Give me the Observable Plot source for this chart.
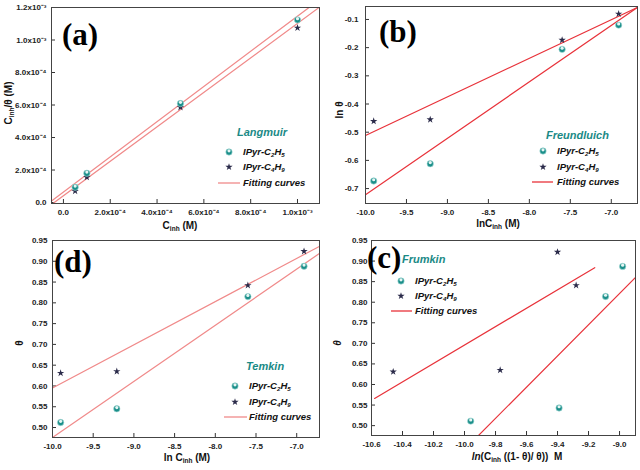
<!DOCTYPE html>
<html><head><meta charset="utf-8">
<script src="https://cdn.jsdelivr.net/npm/d3@7"></script>
<script src="https://cdn.jsdelivr.net/npm/@observablehq/plot@0.6"></script>
<style>
body{margin:0;background:#fff;}
#wrap{position:relative;width:640px;height:470px;overflow:hidden;font-family:Arial,"Liberation Sans",sans-serif;background:#fff;}
.panel{position:absolute;}
.t{position:absolute;white-space:nowrap;line-height:1;transform:translateY(-50%);color:#111;font-weight:bold;}
.xl{position:absolute;white-space:nowrap;line-height:1;transform:translate(-50%,-50%);font-weight:bold;font-size:10px;color:#111;}
.yl{position:absolute;white-space:nowrap;line-height:1;transform:translate(-50%,-50%) rotate(-90deg);font-weight:bold;font-size:10px;color:#111;}
.letter{position:absolute;white-space:nowrap;line-height:1;transform:translateY(-50%);font-family:"Liberation Serif","Times New Roman",serif;font-weight:bold;font-size:31px;color:#000;}
.title{color:#1a8a86;font-style:italic;font-size:11px;}
.item{font-style:italic;font-size:9.5px;}
sub{font-size:0.65em;vertical-align:-0.35em;line-height:0;}
svg.sym{position:absolute;overflow:visible;}
</style>
</head><body><div id="wrap"></div>
<script>
// ---------- data ----------
const conc = [0.00005, 0.0001, 0.0005, 0.001];
const lnConc = [-9.90, -9.21, -7.60, -6.91];

// (a) Langmuir: C/θ
const langC2H5 = [0.000094, 0.000180, 0.000609, 0.001124];
const langC4H9 = [0.000070, 0.000156, 0.000586, 0.001075];
const langFitC2H5X = [-0.000048, 0.001051];
const langFitC2H5Y = [0.000012, 0.001202];
const langFitC4H9X = [-0.000041, 0.001094];
const langFitC4H9Y = [-0.000002, 0.001202];

// (b) Freundlich: ln θ
const freuC2H5 = [-0.673, -0.612, -0.206, -0.120];
const freuC4H9 = [-0.461, -0.455, -0.173, -0.080];
const freuFitX = [-10.0, -6.68];
const freuFitC2H5Y = [-0.722, -0.057];
const freuFitC4H9Y = [-0.512, -0.057];

// (d) Temkin: θ
const temkC2H5 = [0.512, 0.545, 0.815, 0.888];
const temkC4H9 = [0.631, 0.635, 0.842, 0.924];
const temkFitX = [-10.0, -6.72];
const temkFitC2H5Y = [0.476, 0.919];
const temkFitC4H9Y = [0.595, 0.936];

// (c) Frumkin
const frumC2H5X = [-9.96, -9.39, -9.09, -8.98];
const frumC2H5Y = [0.511, 0.543, 0.814, 0.887];
const frumC4H9X = [-10.46, -9.77, -9.40, -9.28];
const frumC4H9Y = [0.631, 0.635, 0.922, 0.841];
const frumFitC2H5X = [-9.91, -8.90];
const frumFitC2H5Y = [0.476, 0.859];
const frumFitC4H9X = [-10.58, -9.16];
const frumFitC4H9Y = [0.566, 0.884];

// ticks
const aXTicks = [0, 0.0002, 0.0004, 0.0006, 0.0008, 0.001];
const aXLabels = ["0.0", "2.0x10⁻⁴", "4.0x10⁻⁴", "6.0x10⁻⁴", "8.0x10⁻⁴", "1.0x10⁻³"];
const aYTicks = [0, 0.0002, 0.0004, 0.0006, 0.0008, 0.001, 0.0012];
const aYLabels = ["0.0", "2.0x10⁻⁴", "4.0x10⁻⁴", "6.0x10⁻⁴", "8.0x10⁻⁴", "1.0x10⁻³", "1.2x10⁻³"];
const lnXTicks = [-10.0, -9.5, -9.0, -8.5, -8.0, -7.5, -7.0];
const lnXLabels = ["-10.0", "-9.5", "-9.0", "-8.5", "-8.0", "-7.5", "-7.0"];
const bYTicks = [-0.7, -0.6, -0.5, -0.4, -0.3, -0.2, -0.1];
const bYLabels = ["-0.7", "-0.6", "-0.5", "-0.4", "-0.3", "-0.2", "-0.1"];
const thYTicks = [0.50, 0.55, 0.60, 0.65, 0.70, 0.75, 0.80, 0.85, 0.90, 0.95];
const thYLabels = ["0.50", "0.55", "0.60", "0.65", "0.70", "0.75", "0.80", "0.85", "0.90", "0.95"];
const cXTicks = [-10.6, -10.4, -10.2, -10.0, -9.8, -9.6, -9.4, -9.2, -9.0];
const cXLabels = ["-10.6", "-10.4", "-10.2", "-10.0", "-9.8", "-9.6", "-9.4", "-9.2", "-9.0"];

const series = ["IPyr-C<sub>2</sub>H<sub>5</sub>", "IPyr-C<sub>4</sub>H<sub>9</sub>", "Fitting curves"];

// ---------- styles ----------
const teal = "#1b8f8a", navy = "#2b2b4a", pink = "#f08a8a", red = "#e8323a";
const starR = 2.3;

const zip = (xs, ys) => xs.map((x, i) => ({x, y: ys[i]}));
const fmt = (ticks, labels) => d => labels[ticks.indexOf(d)];

const wrap = document.getElementById("wrap");

function panel(o) {
  const c2 = zip(o.c2x, o.c2y), c4 = zip(o.c4x, o.c4y);
  const svg = Plot.plot({
    width: 320, height: 235,
    marginLeft: o.m[0], marginRight: o.m[1], marginTop: o.m[2], marginBottom: o.m[3],
    x: {domain: o.xd}, y: {domain: o.yd},
    style: {background: "transparent", overflow: "visible", fontFamily: "Arial, 'Liberation Sans', sans-serif", fontSize: "8px", fontWeight: "bold", color: "#222"},
    marks: [
      Plot.axisX({ticks: o.xt, tickFormat: fmt(o.xt, o.xl), tickSize: 0, tickPadding: 6, label: null, fill: "#222"}),
      Plot.axisX({ticks: o.xt, tickSize: -4, fill: "none", label: null, stroke: "#333"}),
      Plot.axisY({ticks: o.yt, tickFormat: fmt(o.yt, o.yl), tickSize: 0, tickPadding: o.yp, label: null, fill: "#222"}),
      Plot.axisY({ticks: o.yt, tickSize: -4, fill: "none", label: null, stroke: "#333"}),
      Plot.line(zip(o.f2x, o.f2y), {x: "x", y: "y", stroke: o.fc, strokeWidth: 1.2, clip: true}),
      Plot.line(zip(o.f4x, o.f4y), {x: "x", y: "y", stroke: o.fc, strokeWidth: 1.2, clip: true}),
      Plot.dot(c4, {x: "x", y: "y", symbol: "star", fill: navy, r: starR}),
      Plot.dot(c2, {x: "x", y: "y", fill: teal, stroke: "#a9dcd8", strokeWidth: 0.6, r: 3.2}),
      Plot.dot(c2, {x: "x", y: "y", fill: "#e6f6f4", r: 1.6, dy: -1.2}),
      Plot.frame({stroke: "#444", strokeWidth: 1})
    ]
  });
  const div = document.createElement("div");
  div.className = "panel";
  div.style.left = o.left + "px"; div.style.top = o.top + "px";
  div.appendChild(svg);
  wrap.appendChild(div);
}

function html(cls, x, y, content) {
  const d = document.createElement("div");
  d.className = cls; d.style.left = x + "px"; d.style.top = y + "px";
  d.innerHTML = content; wrap.appendChild(d); return d;
}

function legend(L) {
  html("t title", L.titleX, L.titleY, L.title);
  const ns = "http://www.w3.org/2000/svg";
  const s = document.createElementNS(ns, "svg");
  s.setAttribute("class", "sym"); s.setAttribute("width", 640); s.setAttribute("height", 470);
  s.style.left = "0px"; s.style.top = "0px";
  s.innerHTML =
    `<circle cx="${L.symX}" cy="${L.rows[0]}" r="3.2" fill="${teal}" stroke="#a9dcd8" stroke-width="0.6"/>` +
    `<circle cx="${L.symX}" cy="${L.rows[0] - 1.2}" r="1.6" fill="#e6f6f4"/>` +
    `<path transform="translate(${L.symX},${L.rows[1]})" d="${d3.symbol(d3.symbolStar, Math.PI * starR * starR)()}" fill="${navy}"/>` +
    `<line x1="${L.lineX[0]}" x2="${L.lineX[1]}" y1="${L.rows[2]}" y2="${L.rows[2]}" stroke="${L.fc}" stroke-width="1.3"/>`;
  wrap.appendChild(s);
  series.forEach((t, i) => html("t item", L.textX, L.rows[i], t));
}

// (a)
panel({left: 0, top: 0, m: [51, 1, 7, 32], xd: [-0.000051, 0.001094], yd: [-0.000006, 0.0012],
  xt: aXTicks, xl: aXLabels, yt: aYTicks, yl: aYLabels, yp: 5,
  c2x: conc, c2y: langC2H5, c4x: conc, c4y: langC4H9,
  f2x: langFitC2H5X, f2y: langFitC2H5Y, f4x: langFitC4H9X, f4y: langFitC4H9Y, fc: pink});
// (b)
panel({left: 320, top: 0, m: [45, 3, 6, 32], xd: [-10, -6.68], yd: [-0.753, -0.054],
  xt: lnXTicks, xl: lnXLabels, yt: bYTicks, yl: bYLabels, yp: 7,
  c2x: lnConc, c2y: freuC2H5, c4x: lnConc, c4y: freuC4H9,
  f2x: freuFitX, f2y: freuFitC2H5Y, f4x: freuFitX, f4y: freuFitC4H9Y, fc: red});
// (d)
panel({left: 0, top: 235, m: [52, 1, 5, 33], xd: [-10, -6.72], yd: [0.476, 0.95],
  xt: lnXTicks, xl: lnXLabels, yt: thYTicks, yl: thYLabels, yp: 5,
  c2x: lnConc, c2y: temkC2H5, c4x: lnConc, c4y: temkC4H9,
  f2x: temkFitX, f2y: temkFitC2H5Y, f4x: temkFitX, f4y: temkFitC4H9Y, fc: pink});
// (c)
panel({left: 320, top: 235, m: [51, 5, 5, 35], xd: [-10.6, -8.897], yd: [0.476, 0.95],
  xt: cXTicks, xl: cXLabels, yt: thYTicks, yl: thYLabels, yp: 4,
  c2x: frumC2H5X, c2y: frumC2H5Y, c4x: frumC4H9X, c4y: frumC4H9Y,
  f2x: frumFitC2H5X, f2y: frumFitC2H5Y, f4x: frumFitC4H9X, f4y: frumFitC4H9Y, fc: red});

// axis labels
html("xl", 180, 226, "C<sub>inh</sub> (M)");
html("yl", 9, 103, "C<sub>inh</sub>/θ (M)");
html("xl", 498, 224, "lnC<sub>inh</sub> (M)");
html("yl", 340, 110, "ln θ");
html("xl", 187, 458, "ln C<sub>inh</sub> (M)");
html("yl", 20, 343, "θ");
html("xl", 517, 457, "<i>ln</i>(C<sub>inh</sub> ((1- θ)/ θ))&nbsp;&nbsp;M");
html("yl", 338, 343, "<i>θ</i>");

// panel letters
html("letter", 62, 34, "(a)");
html("letter", 379, 31, "(b)");
html("letter", 54, 261, "(d)");
html("letter", 367, 257, "(c)");

// legends
legend({title: "Langmuir", titleX: 237, titleY: 132, symX: 229, rows: [152, 167, 183], lineX: [218, 240], textX: 243, fc: pink});
legend({title: "Freundluich", titleX: 546, titleY: 135, symX: 543, rows: [151, 167, 182], lineX: [532, 553], textX: 557, fc: red});
legend({title: "Temkin", titleX: 246, titleY: 366, symX: 235, rows: [386, 402, 417], lineX: [224, 247], textX: 249, fc: pink});
legend({title: "Frumkin", titleX: 402, titleY: 259, symX: 401, rows: [281, 296, 311], lineX: [391, 412], textX: 415, fc: red});
</script>
</body></html>
